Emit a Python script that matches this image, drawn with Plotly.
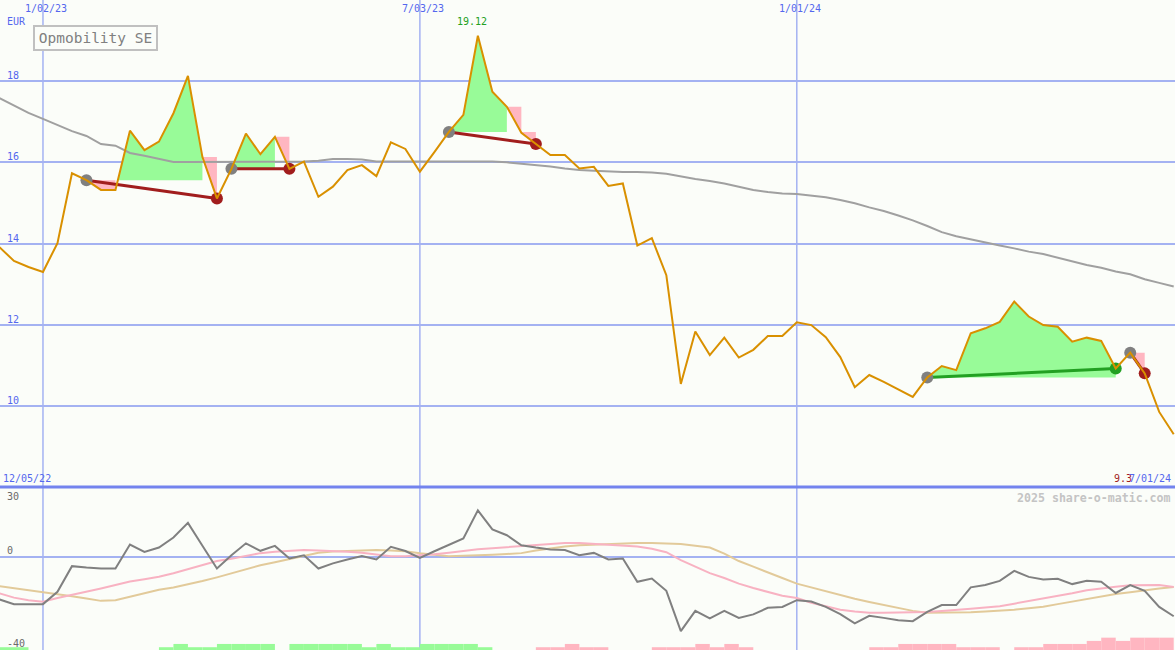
import plotly.graph_objects as go
import pandas as pd

# ---------------- data ----------------
dates = pd.date_range("2022-12-12", periods=82, freq="7D")

price = [13.91, 13.57, 13.42, 13.30, 14.01, 15.73, 15.56, 15.32, 15.32, 16.78,
         16.30, 16.51, 17.21, 18.13, 16.13, 15.11, 15.84, 16.71, 16.20, 16.63,
         15.84, 16.02, 15.15, 15.40, 15.81, 15.93, 15.66, 16.49, 16.33, 15.77,
         16.25, 16.75, 17.17, 19.12, 17.74, 17.37, 16.73, 16.45, 16.18, 16.18,
         15.85, 15.89, 15.42, 15.48, 13.95, 14.13, 13.22, 10.54, 11.83, 11.25,
         11.68, 11.19, 11.38, 11.72, 11.72, 12.06, 11.99, 11.69, 11.20, 10.46,
         10.76, 10.59, 10.41, 10.22, 10.70, 10.98, 10.88, 11.79, 11.91, 12.07,
         12.57, 12.20, 11.99, 11.95, 11.58, 11.68, 11.60, 10.92, 11.31, 10.80,
         9.85, 9.30]

moving_avg = [17.58, 17.39, 17.22, 17.07, 16.92, 16.77, 16.65, 16.45, 16.41, 16.23,
              16.16, 16.08, 16.01, 16.01, 16.01, 16.01, 16.01, 16.01, 16.01, 16.01,
              16.01, 16.02, 16.04, 16.08, 16.08, 16.07, 16.02, 16.02, 16.02, 16.02,
              16.02, 16.03, 16.03, 16.03, 16.02, 16.00, 15.97, 15.93, 15.90, 15.85,
              15.81, 15.79, 15.77, 15.76, 15.76, 15.75, 15.72, 15.65, 15.59, 15.54,
              15.48, 15.40, 15.32, 15.27, 15.23, 15.22, 15.18, 15.14, 15.07, 14.99,
              14.89, 14.80, 14.69, 14.57, 14.43, 14.28, 14.18, 14.10, 14.02, 13.95,
              13.88, 13.80, 13.74, 13.65, 13.57, 13.47, 13.40, 13.31, 13.24, 13.12,
              13.03, 12.94]

osc_main = [-18.3, -20.3, -20.3, -20.3, -15.0, -4.0, -4.6, -5.0, -5.0, 5.3,
            2.1, 4.0, 8.3, 14.6, 4.8, -5.0, 0.7, 5.8, 2.6, 4.7,
            -0.7, 0.7, -5.0, -2.8, -1.1, 0.4, -1.1, 4.3, 2.5, -0.4,
            2.4, 5.0, 7.9, 20.0, 11.8, 9.3, 5.0, 4.0, 3.2, 2.9,
            0.7, 1.7, -1.1, -0.7, -10.7, -9.3, -14.6, -31.9, -23.2, -26.4,
            -23.2, -26.2, -24.7, -21.9, -21.5, -18.6, -19.2, -21.5, -24.6, -28.6,
            -25.3, -26.2, -27.2, -27.6, -23.6, -20.7, -20.7, -13.1, -12.1, -10.3,
            -6.0, -8.6, -9.7, -9.4, -11.7, -10.3, -10.7, -15.5, -12.1, -14.6,
            -21.5, -25.5]

osc_pink = [-15.7, -17.5, -18.6, -19.3, -17.7, -16.4, -14.9, -13.6, -12.1, -10.6,
            -9.6, -8.5, -7.0, -5.3, -3.3, -1.8, -0.8, 0.3, 1.6, 2.2,
            2.7, 2.9, 2.7, 2.6, 2.2, 1.8, 0.9, 0.3, 0.3, 0.6,
            1.1, 1.8, 2.7, 3.3, 3.7, 4.2, 4.6, 5.0, 5.7, 6.0,
            5.9, 5.5, 5.2, 4.8, 4.4, 3.5, 2.0, -1.4, -4.2, -7.0,
            -9.1, -11.5, -13.4, -15.2, -16.7, -17.7, -19.7, -21.2, -22.7, -23.5,
            -24.0, -24.0, -24.0, -24.0, -23.7, -23.3, -22.9, -22.3, -21.7, -21.2,
            -20.1, -19.0, -17.9, -16.9, -15.6, -14.3, -13.4, -12.8, -12.2, -12.1,
            -12.1, -12.9]

osc_tan = [-12.6, -13.4, -14.3, -15.0, -15.9, -16.9, -17.9, -18.9, -18.6, -17.1,
           -15.6, -14.1, -13.2, -11.9, -10.4, -8.8, -7.0, -5.1, -3.6, -2.3,
           -1.0, 0.5, 1.8, 2.3, 2.6, 2.7, 2.9, 2.7, 2.4, 1.5,
           0.8, 0.3, 0.5, 0.6, 0.9, 1.2, 1.6, 2.7, 3.6, 4.4,
           5.0, 5.3, 5.6, 5.8, 6.0, 6.0, 5.8, 5.5, 4.8, 4.0,
           1.4, -1.8, -4.2, -6.8, -9.1, -11.5, -13.2, -14.9, -16.4, -18.0,
           -19.4, -20.7, -22.0, -23.2, -24.0, -24.0, -24.0, -23.8, -23.5, -23.2,
           -22.7, -22.1, -21.4, -20.3, -19.2, -18.2, -17.1, -16.0, -15.2, -14.3,
           -13.6, -12.9]

hist_green = [1.2, 1.2, 0, 0, 0, 0, 0, 0, 0, 0,
              0, 1.2, 2.6, 1.2, 1.2, 2.6, 2.6, 2.6, 2.6, 0,
              2.6, 2.6, 2.6, 2.6, 2.6, 1.2, 2.6, 1.2, 1.2, 2.6,
              2.6, 2.6, 2.6, 1.2, 0, 0, 0, 0, 0, 0,
              0, 0, 0, 0, 0, 0, 0, 0, 0, 0,
              0, 0, 0, 0, 0, 0, 0, 0, 0, 0,
              0, 0, 0, 0, 0, 0, 0, 0, 0, 0,
              0, 0, 0, 0, 0, 0, 0, 0, 0, 0,
              0, 0]

hist_pink = [0, 0, 0, 0, 0, 0, 0, 0, 0, 0,
             0, 0, 0, 0, 0, 0, 0, 0, 0, 0,
             0, 0, 0, 0, 0, 0, 0, 0, 0, 0,
             0, 0, 0, 0, 0, 0, 0, 1.2, 1.2, 2.6,
             1.2, 1.2, 0, 0, 0, 1.2, 1.2, 1.2, 2.6, 1.2,
             2.6, 1.2, 0, 0, 0, 0, 0, 0, 0, 0,
             1.2, 1.2, 2.6, 2.6, 2.6, 2.6, 1.2, 1.2, 1.2, 0,
             1.2, 1.2, 2.6, 2.6, 2.6, 3.9, 5.3, 3.9, 5.3, 5.3,
             5.3, 0]

trade_entry = [6, 16, 31, 64, 78]
trade_exit = [15, 20, 37, 77, 79]

price_ticks = [10, 12, 14, 16, 18]
osc_labels = [30, 0, -40]
date_ticks = ["2023-01-02", "2023-07-03", "2024-01-01"]
date_tick_labels = ["1/02/23", "7/03/23", "1/01/24"]
start_label = "12/05/22"
end_label = "7/01/24"
title_text = "Opmobility SE"
currency = "EUR"
watermark = "2025 share-o-matic.com"

# ---------------- styles ----------------
BG = "#fbfdf9"
GRID = "#a4b2f2"
SEP = "#7383ee"
BLUE_TXT = "#5467ee"
ORANGE = "#d99000"
MA_GRAY = "#a0a0a0"
GREEN_FILL = "#98fb98"
PINK_FILL = "#ffb6c1"
RED = "#a11d1d"
GREEN = "#22a022"
GRAY_MK = "#808080"
FONT = "DejaVu Sans Mono"

fig = go.Figure()

# ---------------- trade fills ----------------
gx, gy, px_, py_ = [], [], [], []
for e, x in zip(trade_entry, trade_exit):
    L = price[e]
    run = []
    for j in range(e, x):
        green = price[j + 1] > L
        if green:
            run.append(j)
        else:
            top = max(price[j], L)
            px_ += [dates[j], dates[j + 1], dates[j + 1], dates[j], None]
            py_ += [top, top, price[j + 1], price[j], None]
    if run:
        groups = [[run[0]]]
        for j in run[1:]:
            if j == groups[-1][-1] + 1:
                groups[-1].append(j)
            else:
                groups.append([j])
        for g in groups:
            a, b = g[0], g[-1] + 1
            xs, ys = [], []
            if price[a] < L:
                frac = (L - price[a]) / (price[a + 1] - price[a])
                xc = dates[a] + (dates[a + 1] - dates[a]) * frac
                xs.append(xc); ys.append(L)
                idx = range(a + 1, b + 1)
            else:
                xs.append(dates[a]); ys.append(L)
                idx = range(a, b + 1)
            for k in idx:
                xs.append(dates[k]); ys.append(max(price[k], L))
            xs.append(dates[b]); ys.append(L)
            gx += xs + [None]
            gy += ys + [None]

fig.add_trace(go.Scatter(x=gx, y=gy, mode="lines", fill="toself",
                         fillcolor=GREEN_FILL, line=dict(width=0),
                         hoverinfo="skip", yaxis="y"))
fig.add_trace(go.Scatter(x=px_, y=py_, mode="lines", fill="toself",
                         fillcolor=PINK_FILL, line=dict(width=0),
                         hoverinfo="skip", yaxis="y"))

# moving average
fig.add_trace(go.Scatter(x=dates, y=moving_avg, mode="lines",
                         line=dict(color=MA_GRAY, width=2), yaxis="y"))

# trade connecting lines
for e, x in zip(trade_entry, trade_exit):
    col = GREEN if price[x] > price[e] else RED
    fig.add_trace(go.Scatter(x=[dates[e], dates[x]], y=[price[e], price[x]],
                             mode="lines", line=dict(color=col, width=3),
                             yaxis="y"))

# markers
fig.add_trace(go.Scatter(x=[dates[e] for e in trade_entry],
                         y=[price[e] for e in trade_entry], mode="markers",
                         marker=dict(color=GRAY_MK, size=12), yaxis="y"))
fig.add_trace(go.Scatter(x=[dates[x] for x in trade_exit],
                         y=[price[x] for x in trade_exit], mode="markers",
                         marker=dict(color=[GREEN if price[x] > price[e] else RED
                                            for e, x in zip(trade_entry, trade_exit)],
                                     size=12), yaxis="y"))

# price line
fig.add_trace(go.Scatter(x=dates, y=price, mode="lines",
                         line=dict(color=ORANGE, width=2), yaxis="y"))

# ---------------- lower panel ----------------
week_ms = 7 * 24 * 3600 * 1000
fig.add_trace(go.Bar(x=dates, y=hist_green, base=-40, width=week_ms, offset=0,
                     marker=dict(color=GREEN_FILL, line=dict(width=0)), yaxis="y2"))
fig.add_trace(go.Bar(x=dates, y=hist_pink, base=-40, width=week_ms, offset=0,
                     marker=dict(color=PINK_FILL, line=dict(width=0)), yaxis="y2"))
fig.add_trace(go.Scatter(x=dates, y=osc_tan, mode="lines",
                         line=dict(color="#e2ca9a", width=2), yaxis="y2"))
fig.add_trace(go.Scatter(x=dates, y=osc_pink, mode="lines",
                         line=dict(color="#f8b2c2", width=2), yaxis="y2"))
fig.add_trace(go.Scatter(x=dates, y=osc_main, mode="lines",
                         line=dict(color="#808080", width=2), yaxis="y2"))

# ---------------- layout ----------------
split = 163 / 650
shapes = []
for d in date_ticks:
    shapes.append(dict(type="line", xref="x", yref="paper", x0=d, x1=d, y0=0, y1=1,
                       line=dict(color=GRID, width=1.5), layer="below"))
shapes.append(dict(type="line", xref="paper", yref="paper", x0=0, x1=1,
                   y0=split, y1=split, line=dict(color=SEP, width=3), layer="below"))

ann = []
for d, lab in zip(date_ticks, date_tick_labels):
    ann.append(dict(x=d, xref="x", y=1, yref="paper", yanchor="top", xanchor="center",
                    xshift=3.5, yshift=-1, text=lab, showarrow=False,
                    font=dict(family=FONT, size=10, color=BLUE_TXT)))
for v in price_ticks:
    ann.append(dict(x=0, xref="paper", y=v, yref="y", xanchor="left", yanchor="bottom",
                    xshift=4.5, yshift=-2, text=str(v), showarrow=False,
                    font=dict(family=FONT, size=10, color=BLUE_TXT)))
ann.append(dict(x=0, xref="paper", y=1, yref="paper", xanchor="left", yanchor="top",
                xshift=4.5, yshift=-14, text=currency, showarrow=False,
                font=dict(family=FONT, size=10, color=BLUE_TXT)))
ann.append(dict(x=32.5 / 1175, xref="paper", y=1 - 24.5 / 650, yref="paper",
                xanchor="left", yanchor="top", text=title_text, showarrow=False,
                width=117, height=18, borderpad=2, bordercolor="#c0c0c0",
                borderwidth=2, bgcolor=BG,
                font=dict(family=FONT, size=14.5, color="#808080")))
imax = price.index(max(price))
ann.append(dict(x=dates[imax], xref="x", y=1, yref="paper", yanchor="top",
                xshift=-6, yshift=-14, text=f"{max(price):.2f}", showarrow=False,
                font=dict(family=FONT, size=10, color=GREEN)))
ann.append(dict(x=0, xref="paper", y=30, yref="y2", xanchor="left", yanchor="bottom",
                xshift=0.5, yshift=1, text=start_label, showarrow=False,
                font=dict(family=FONT, size=10, color=BLUE_TXT)))
ann.append(dict(x=1, xref="paper", y=30, yref="y2", xanchor="right", yanchor="bottom",
                xshift=-41, yshift=1, text=f"{price[-1]:.1f}", showarrow=False,
                font=dict(family=FONT, size=10, color=RED)))
ann.append(dict(x=1, xref="paper", y=30, yref="y2", xanchor="right", yanchor="bottom",
                xshift=-2.5, yshift=1, text=end_label, showarrow=False,
                font=dict(family=FONT, size=10, color=BLUE_TXT)))
ann.append(dict(x=1, xref="paper", y=30, yref="y2", xanchor="right", yanchor="top",
                xshift=-2, yshift=-2, text=f"<b>{watermark}</b>", showarrow=False,
                font=dict(family=FONT, size=11.6, color="#c4c4c4")))
for v in osc_labels:
    if v == max(osc_labels):
        ya, ys = "top", -2
    else:
        ya, ys = "bottom", -1
    ann.append(dict(x=0, xref="paper", y=v, yref="y2", xanchor="left", yanchor=ya,
                    xshift=4.5, yshift=ys, text=str(v), showarrow=False,
                    font=dict(family=FONT, size=10, color="#6a6a6a")))

fig.update_layout(
    width=1175, height=650,
    margin=dict(l=0, r=0, t=0, b=0),
    paper_bgcolor=BG, plot_bgcolor=BG,
    showlegend=False, barmode="overlay",
    xaxis=dict(type="date", range=["2022-12-12 06:00", "2024-07-01 15:00"],
               showgrid=False, showticklabels=False, zeroline=False,
               showline=False, ticks=""),
    yaxis=dict(domain=[split, 1], range=[8, 20], tickvals=price_ticks,
               showgrid=True, gridcolor=GRID, gridwidth=2,
               showticklabels=False, zeroline=False, showline=False, ticks=""),
    yaxis2=dict(domain=[0, split], range=[-40, 30], tickvals=[0],
                showgrid=True, gridcolor=GRID, gridwidth=2,
                showticklabels=False, zeroline=False, showline=False, ticks=""),
    shapes=shapes, annotations=ann,
)

fig.write_html("out.html", config={"displayModeBar": False},
               post_script="document.body.style.margin='0';"
                           "document.body.style.background='" + BG + "';")
